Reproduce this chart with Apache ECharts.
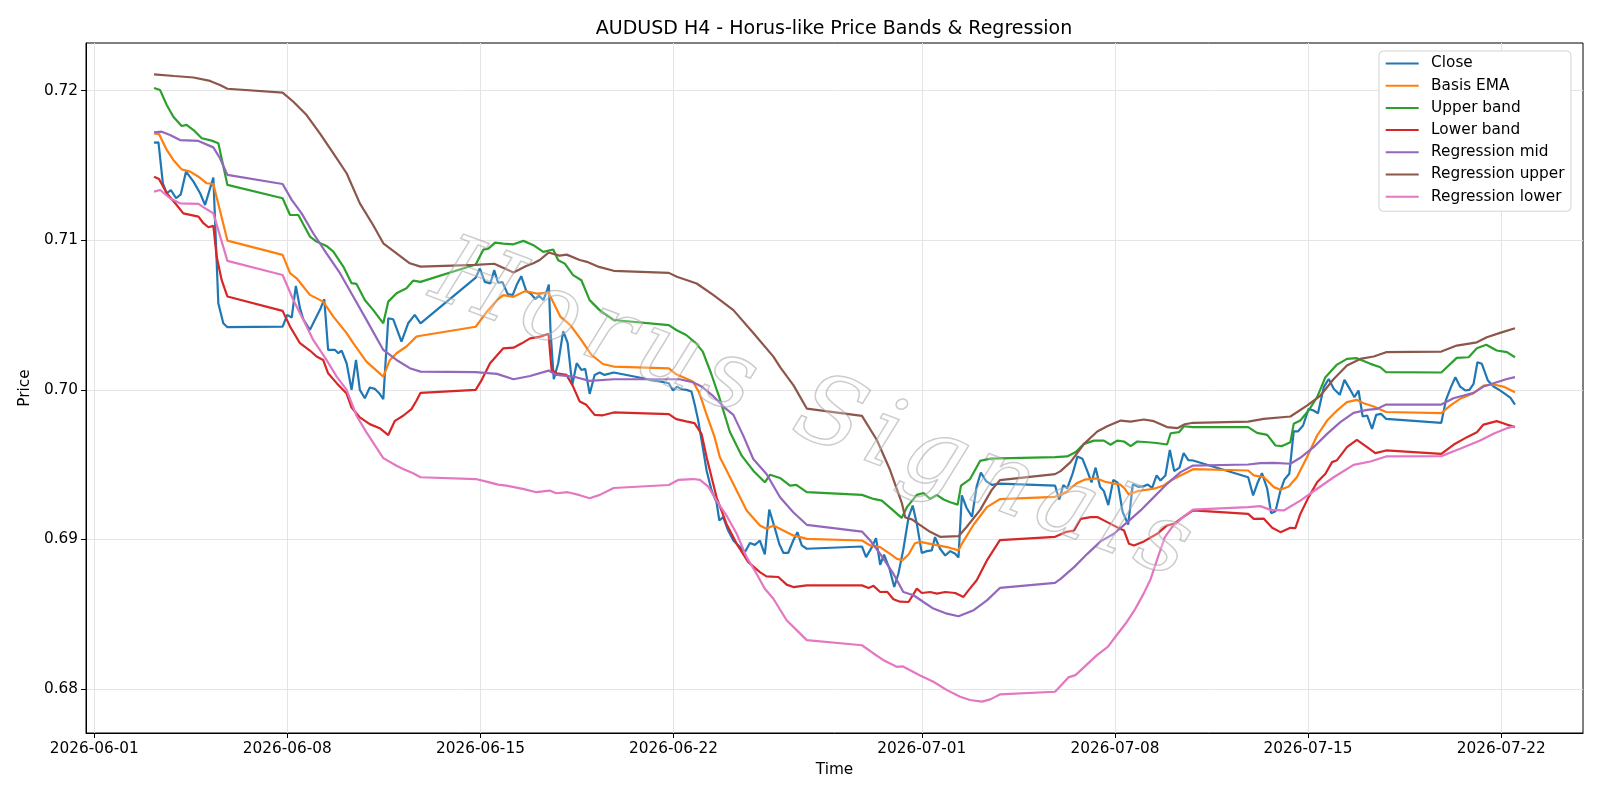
<!DOCTYPE html>
<html>
<head>
<meta charset="utf-8">
<title>AUDUSD H4 - Horus-like Price Bands & Regression</title>
<script src="https://cdn.jsdelivr.net/npm/echarts@6.0.0/dist/echarts.min.js"></script>
<style>
  html, body { margin: 0; padding: 0; background: #fff; }
  #chart { width: 1600px; height: 800px; }
</style>
</head>
<body>
<div id="chart"></div>
<script>
// each point: [days since 2026-06-01 00:00 UTC, price]
var close = [
  [2.17, 0.71653], [2.33, 0.71655], [2.49, 0.71381], [2.63, 0.71314], [2.78, 0.71336], [2.97, 0.71281],
  [3.14, 0.71307], [3.33, 0.71459], [3.6, 0.71392], [3.84, 0.71314], [4.02, 0.71236], [4.2, 0.71347],
  [4.32, 0.71419], [4.5, 0.70579], [4.68, 0.70445], [4.83, 0.70419], [6.83, 0.70423], [7.0, 0.70501],
  [7.16, 0.70483], [7.31, 0.70695], [7.46, 0.70546], [7.58, 0.70472], [7.82, 0.70401], [8.06, 0.7049],
  [8.21, 0.70546], [8.34, 0.70606], [8.48, 0.70267], [8.73, 0.70267], [8.85, 0.70245], [8.97, 0.70263],
  [9.15, 0.70178], [9.33, 0.7], [9.49, 0.702], [9.63, 0.7], [9.81, 0.69944], [9.99, 0.70016],
  [10.17, 0.70007], [10.33, 0.69978], [10.48, 0.69938], [10.66, 0.70479], [10.84, 0.70472], [11.14, 0.70323],
  [11.38, 0.70445], [11.62, 0.70501], [11.83, 0.70445], [13.83, 0.7075], [13.98, 0.70811], [14.16, 0.70722],
  [14.36, 0.70711], [14.5, 0.708], [14.64, 0.70716], [14.8, 0.7072], [14.99, 0.7064], [15.17, 0.70633],
  [15.32, 0.70704], [15.48, 0.7076], [15.66, 0.70662], [15.84, 0.7064], [15.99, 0.70607], [16.13, 0.7063],
  [16.28, 0.706], [16.4, 0.70656], [16.48, 0.70704], [16.54, 0.704], [16.66, 0.70071], [16.82, 0.70178],
  [17.0, 0.70393], [17.16, 0.70316], [17.33, 0.70033], [17.49, 0.70178], [17.66, 0.70133], [17.8, 0.7014],
  [17.96, 0.69973], [18.14, 0.701], [18.32, 0.70116], [18.5, 0.701], [18.83, 0.70116], [20.83, 0.70044],
  [20.98, 0.69996], [21.13, 0.70022], [21.29, 0.70004], [21.47, 0.7], [21.65, 0.69989], [21.77, 0.699],
  [21.89, 0.698], [22.02, 0.6966], [22.2, 0.6946], [22.38, 0.69327], [22.56, 0.69249], [22.66, 0.69127],
  [22.8, 0.69149], [22.98, 0.6906], [23.17, 0.68993], [23.41, 0.68949], [23.59, 0.68916], [23.77, 0.68976],
  [23.95, 0.68964], [24.13, 0.68993], [24.31, 0.689], [24.47, 0.692], [24.68, 0.69071], [24.83, 0.68971],
  [24.98, 0.68911], [25.16, 0.68911], [25.34, 0.68993], [25.49, 0.69049], [25.65, 0.6896], [25.83, 0.68938],
  [27.83, 0.68953], [27.98, 0.68882], [28.19, 0.68949], [28.34, 0.69009], [28.49, 0.68831], [28.63, 0.68898],
  [28.83, 0.68804], [29.0, 0.68682], [29.15, 0.68771], [29.33, 0.68933], [29.52, 0.69149], [29.67, 0.69227],
  [29.82, 0.69104], [30.0, 0.68909], [30.18, 0.68922], [30.36, 0.68927], [30.48, 0.69016], [30.66, 0.68938],
  [30.85, 0.68893], [31.03, 0.68922], [31.21, 0.68904], [31.33, 0.6888], [31.45, 0.69295], [31.62, 0.69212],
  [31.82, 0.69152], [31.99, 0.69356], [32.14, 0.69448], [32.33, 0.6939], [32.54, 0.69365], [32.83, 0.69373],
  [34.83, 0.6936], [34.98, 0.69267], [35.13, 0.69364], [35.27, 0.69342], [35.47, 0.69442], [35.64, 0.69554],
  [35.82, 0.6954], [36.0, 0.69457], [36.15, 0.69381], [36.3, 0.6948], [36.46, 0.69353], [36.6, 0.69323],
  [36.76, 0.6923], [36.94, 0.69398], [37.1, 0.69379], [37.28, 0.69184], [37.48, 0.691], [37.65, 0.69369],
  [37.84, 0.69352], [38.03, 0.69355], [38.19, 0.69367], [38.35, 0.69345], [38.51, 0.69428], [38.65, 0.69394],
  [38.83, 0.69428], [38.99, 0.69599], [39.15, 0.69457], [39.34, 0.6948], [39.49, 0.69578], [39.66, 0.6953],
  [39.83, 0.69528], [41.83, 0.69416], [42.01, 0.69294], [42.18, 0.69383], [42.33, 0.69443], [42.52, 0.69339],
  [42.66, 0.69176], [42.82, 0.69189], [43.0, 0.69327], [43.14, 0.69399], [43.32, 0.69439], [43.48, 0.69722],
  [43.63, 0.69722], [43.82, 0.69762], [44.02, 0.69873], [44.2, 0.69862], [44.36, 0.69844], [44.57, 0.70018],
  [44.75, 0.70073], [44.93, 0.70007], [45.15, 0.69967], [45.32, 0.70067], [45.51, 0.70007], [45.68, 0.69951],
  [45.83, 0.69996], [45.98, 0.69822], [46.14, 0.69829], [46.32, 0.69739], [46.47, 0.69833], [46.64, 0.6984],
  [46.83, 0.69806], [48.83, 0.6978], [49.0, 0.69933], [49.18, 0.70018], [49.34, 0.70085], [49.51, 0.70022],
  [49.7, 0.69996], [49.85, 0.7], [50.0, 0.7004], [50.14, 0.70185], [50.3, 0.70174], [50.52, 0.70062],
  [50.72, 0.70022], [50.93, 0.7], [51.14, 0.69973], [51.34, 0.69947], [51.5, 0.69902]
];

var basisEma = [
  [2.17, 0.71715], [2.35, 0.7171], [2.63, 0.71604], [2.87, 0.71537], [3.17, 0.71474], [3.48, 0.71459],
  [3.78, 0.71425], [4.08, 0.71381], [4.32, 0.71376], [4.83, 0.70998], [6.83, 0.70902], [7.1, 0.7078],
  [7.34, 0.70746], [7.82, 0.70635], [8.3, 0.7059], [8.67, 0.7049], [9.15, 0.70379], [9.39, 0.70312],
  [9.87, 0.70189], [10.48, 0.70089], [10.72, 0.702], [10.96, 0.70245], [11.32, 0.7029], [11.68, 0.70356],
  [11.83, 0.70362], [13.83, 0.70422], [14.23, 0.70522], [14.6, 0.706], [14.83, 0.70633], [15.2, 0.70622],
  [15.62, 0.7066], [16.04, 0.70644], [16.47, 0.70649], [16.72, 0.70556], [16.9, 0.70489], [17.26, 0.70433],
  [17.66, 0.70333], [18.03, 0.70233], [18.44, 0.70173], [18.83, 0.70156], [20.83, 0.70144], [21.1, 0.70104],
  [21.7, 0.70056], [21.94, 0.69978], [22.18, 0.69844], [22.48, 0.69689], [22.68, 0.69549], [23.17, 0.69371],
  [23.65, 0.69193], [24.13, 0.69093], [24.37, 0.69071], [24.62, 0.69093], [24.98, 0.6906], [25.34, 0.69027],
  [25.83, 0.69004], [27.83, 0.68993], [28.13, 0.6896], [28.49, 0.68949], [28.85, 0.68904], [29.1, 0.6887],
  [29.3, 0.68862], [29.52, 0.689], [29.75, 0.68975], [29.94, 0.68984], [30.54, 0.68962], [31.0, 0.68945],
  [31.33, 0.68927], [31.45, 0.68971], [31.88, 0.691], [32.36, 0.69216], [32.83, 0.6927], [34.83, 0.69285],
  [35.25, 0.69319], [35.61, 0.69375], [35.9, 0.694], [36.34, 0.69408], [36.64, 0.69386], [36.94, 0.69375],
  [37.18, 0.69368], [37.33, 0.69345], [37.51, 0.693], [37.81, 0.69323], [38.41, 0.69339], [38.77, 0.69361],
  [39.02, 0.69394], [39.38, 0.69428], [39.83, 0.6947], [41.83, 0.69461], [42.03, 0.69428], [42.39, 0.69417],
  [42.76, 0.6935], [43.0, 0.69332], [43.3, 0.69354], [43.6, 0.69417], [43.96, 0.6955], [44.33, 0.69695],
  [44.69, 0.69795], [45.05, 0.69862], [45.41, 0.69918], [45.77, 0.69933], [46.02, 0.69911], [46.38, 0.69889],
  [46.83, 0.69852], [48.83, 0.69844], [49.15, 0.69895], [49.51, 0.6994], [50.0, 0.69978], [50.36, 0.70029],
  [50.72, 0.70036], [51.08, 0.70022], [51.5, 0.69984]
];

var upperBand = [
  [2.17, 0.72018], [2.39, 0.72004], [2.63, 0.71904], [2.87, 0.71826], [3.17, 0.71764], [3.35, 0.71771],
  [3.6, 0.71737], [3.9, 0.71682], [4.26, 0.71666], [4.5, 0.71648], [4.83, 0.7137], [6.83, 0.71281],
  [7.1, 0.71169], [7.4, 0.71169], [7.82, 0.71025], [8.06, 0.70991], [8.42, 0.70962], [8.67, 0.70924],
  [9.03, 0.70824], [9.33, 0.70713], [9.51, 0.70708], [9.81, 0.70601], [10.11, 0.70535], [10.48, 0.70445],
  [10.66, 0.7059], [10.96, 0.70646], [11.32, 0.70679], [11.56, 0.7073], [11.83, 0.70722], [13.83, 0.70838],
  [14.11, 0.70938], [14.29, 0.70944], [14.53, 0.70984], [14.83, 0.70978], [15.2, 0.70973], [15.56, 0.70996],
  [15.92, 0.70967], [16.28, 0.70922], [16.64, 0.70938], [16.82, 0.70867], [17.06, 0.70844], [17.36, 0.70767],
  [17.66, 0.70733], [17.96, 0.706], [18.32, 0.70533], [18.83, 0.70467], [20.83, 0.70433], [21.1, 0.704],
  [21.46, 0.70367], [21.82, 0.70311], [22.06, 0.70256], [22.36, 0.70111], [22.66, 0.6995], [23.04, 0.6972],
  [23.47, 0.6956], [23.89, 0.6946], [24.31, 0.69382], [24.5, 0.69433], [24.86, 0.69411], [25.22, 0.6936],
  [25.45, 0.69365], [25.83, 0.69316], [27.83, 0.69298], [28.25, 0.69271], [28.55, 0.6926], [28.97, 0.69193],
  [29.27, 0.69144], [29.46, 0.69216], [29.82, 0.69298], [30.06, 0.69311], [30.3, 0.69271], [30.54, 0.69298],
  [30.79, 0.69267], [31.03, 0.69249], [31.3, 0.69233], [31.42, 0.6936], [31.75, 0.69404], [32.11, 0.69525],
  [32.48, 0.6954], [32.83, 0.69542], [34.83, 0.6955], [35.27, 0.69555], [35.58, 0.69584], [35.88, 0.69639],
  [36.24, 0.69661], [36.6, 0.69661], [36.84, 0.69633], [37.08, 0.69661], [37.33, 0.69655], [37.57, 0.69624],
  [37.81, 0.69655], [38.2, 0.6965], [38.5, 0.69645], [38.89, 0.69635], [39.02, 0.6971], [39.32, 0.69717],
  [39.5, 0.69757], [39.83, 0.69751], [41.83, 0.69751], [42.15, 0.69713], [42.52, 0.69699], [42.82, 0.69628],
  [43.06, 0.69624], [43.36, 0.6965], [43.48, 0.69773], [43.72, 0.69795], [44.02, 0.69862], [44.33, 0.69951],
  [44.63, 0.70085], [45.05, 0.70169], [45.41, 0.70207], [45.77, 0.70212], [46.26, 0.70174], [46.62, 0.70151],
  [46.83, 0.70118], [48.83, 0.70116], [49.39, 0.70214], [49.82, 0.70218], [50.12, 0.70278], [50.46, 0.70301],
  [50.84, 0.70263], [51.21, 0.70252], [51.5, 0.70218]
];

var lowerBand = [
  [2.17, 0.71425], [2.35, 0.7141], [2.63, 0.71314], [2.99, 0.71236], [3.23, 0.7118], [3.78, 0.71158],
  [3.96, 0.71114], [4.14, 0.71087], [4.32, 0.71096], [4.44, 0.70891], [4.62, 0.70735], [4.83, 0.70624],
  [6.83, 0.70528], [7.1, 0.70423], [7.46, 0.70312], [7.82, 0.70263], [8.06, 0.70223], [8.3, 0.702],
  [8.48, 0.70111], [8.79, 0.70045], [9.15, 0.69975], [9.33, 0.69882], [9.63, 0.69816], [9.99, 0.69771],
  [10.35, 0.69744], [10.66, 0.69698], [10.9, 0.69793], [11.2, 0.69827], [11.5, 0.69871], [11.68, 0.69927],
  [11.83, 0.6998], [13.83, 0.7], [14.05, 0.70067], [14.35, 0.70178], [14.83, 0.70278], [15.2, 0.70282],
  [15.5, 0.70311], [15.8, 0.70344], [16.16, 0.70356], [16.47, 0.70373], [16.58, 0.70133], [16.76, 0.70111],
  [17.12, 0.701], [17.36, 0.70022], [17.6, 0.69922], [17.84, 0.699], [18.14, 0.69833], [18.44, 0.6983],
  [18.83, 0.69849], [20.83, 0.69838], [21.1, 0.69804], [21.46, 0.69789], [21.76, 0.69778], [22.02, 0.69704],
  [22.2, 0.69549], [22.56, 0.69282], [22.92, 0.69104], [23.29, 0.68971], [23.71, 0.68849], [24.13, 0.68782],
  [24.37, 0.68753], [24.8, 0.68749], [25.1, 0.68698], [25.34, 0.68682], [25.83, 0.68693], [27.83, 0.68693],
  [28.07, 0.68676], [28.25, 0.6869], [28.49, 0.68649], [28.75, 0.6865], [28.97, 0.686], [29.21, 0.68584],
  [29.52, 0.68582], [29.82, 0.68671], [30.0, 0.68642], [30.3, 0.68649], [30.55, 0.68638], [30.85, 0.68649],
  [31.21, 0.68642], [31.51, 0.68616], [31.69, 0.6866], [31.99, 0.68727], [32.36, 0.6886], [32.83, 0.68995],
  [34.83, 0.69018], [35.25, 0.69051], [35.52, 0.6906], [35.76, 0.69138], [36.12, 0.69149], [36.36, 0.6915],
  [36.72, 0.69116], [37.08, 0.69082], [37.33, 0.6906], [37.51, 0.68971], [37.69, 0.6896], [38.05, 0.68987],
  [38.53, 0.69038], [38.89, 0.69094], [39.14, 0.69105], [39.38, 0.69138], [39.74, 0.69183], [39.83, 0.69194],
  [41.83, 0.69171], [42.03, 0.69138], [42.39, 0.6914], [42.7, 0.69078], [43.0, 0.69049], [43.36, 0.69078],
  [43.54, 0.69076], [43.72, 0.69171], [44.02, 0.69283], [44.33, 0.69383], [44.63, 0.69439], [44.87, 0.69517],
  [45.05, 0.6953], [45.41, 0.69617], [45.77, 0.69666], [46.14, 0.69617], [46.44, 0.69577], [46.83, 0.69595],
  [48.83, 0.69572], [49.27, 0.69633], [49.76, 0.69684], [50.12, 0.69717], [50.36, 0.69768], [50.84, 0.69791],
  [51.21, 0.69768], [51.5, 0.69751]
];

var regMid = [
  [2.17, 0.71722], [2.45, 0.71726], [2.75, 0.71704], [3.11, 0.7167], [3.78, 0.71664], [4.32, 0.71621],
  [4.56, 0.71548], [4.83, 0.71437], [6.83, 0.71376], [7.16, 0.7127], [7.52, 0.7118], [7.94, 0.71047],
  [8.42, 0.70913], [8.91, 0.7078], [9.39, 0.70624], [9.87, 0.70468], [10.48, 0.70267], [10.96, 0.702],
  [11.44, 0.70145], [11.83, 0.70122], [13.83, 0.70118], [14.6, 0.70107], [15.2, 0.70071], [15.8, 0.70093],
  [16.47, 0.70129], [16.76, 0.701], [17.36, 0.70089], [17.96, 0.7006], [18.83, 0.70071], [20.83, 0.70071],
  [21.22, 0.70071], [21.7, 0.70051], [22.0, 0.70025], [22.45, 0.69956], [22.87, 0.69878], [23.17, 0.69833],
  [23.54, 0.69689], [23.89, 0.69538], [24.37, 0.69438], [24.86, 0.69282], [25.34, 0.69182], [25.83, 0.69098],
  [27.83, 0.69053], [28.13, 0.68993], [28.49, 0.68904], [28.97, 0.68771], [29.33, 0.68649], [29.7, 0.68627],
  [30.06, 0.68582], [30.42, 0.68538], [30.91, 0.68504], [31.33, 0.68487], [31.88, 0.68527], [32.36, 0.68593],
  [32.83, 0.68676], [34.83, 0.6871], [35.03, 0.68737], [35.52, 0.68815], [36.0, 0.68904], [36.48, 0.68987],
  [36.96, 0.69038], [37.45, 0.69116], [37.93, 0.69194], [38.41, 0.69283], [38.89, 0.69372], [39.38, 0.6945],
  [39.83, 0.69494], [41.83, 0.69501], [42.27, 0.6951], [42.76, 0.69512], [43.36, 0.69506], [43.72, 0.69546],
  [44.2, 0.69617], [44.69, 0.69706], [45.17, 0.69784], [45.65, 0.69846], [46.14, 0.69866], [46.5, 0.69873],
  [46.83, 0.69902], [48.83, 0.69902], [49.27, 0.69944], [49.64, 0.69962], [50.0, 0.6998], [50.36, 0.70022],
  [50.84, 0.70051], [51.21, 0.70073], [51.5, 0.70085]
];

var regUpper = [
  [2.17, 0.72109], [2.9, 0.72098], [3.6, 0.72088], [4.2, 0.72065], [4.56, 0.72038], [4.83, 0.72013],
  [6.83, 0.71987], [7.22, 0.71926], [7.7, 0.71837], [8.18, 0.71715], [8.67, 0.71581], [9.15, 0.71448],
  [9.63, 0.71247], [10.11, 0.71102], [10.48, 0.7098], [10.96, 0.70913], [11.44, 0.70846], [11.83, 0.70824],
  [13.83, 0.70836], [14.5, 0.70843], [15.2, 0.70785], [15.66, 0.70828], [15.92, 0.70846], [16.15, 0.70868],
  [16.47, 0.70918], [16.87, 0.70897], [17.13, 0.70904], [17.6, 0.70868], [17.86, 0.70856], [18.3, 0.70822],
  [18.83, 0.70796], [20.83, 0.70782], [21.12, 0.70756], [21.84, 0.70711], [22.45, 0.70633], [23.17, 0.70533],
  [23.9, 0.70378], [24.62, 0.70222], [24.87, 0.7015], [25.35, 0.7003], [25.83, 0.69875], [27.83, 0.69826],
  [28.37, 0.69665], [28.85, 0.69464], [29.28, 0.69241], [29.4, 0.69147], [29.64, 0.69134], [29.94, 0.69096],
  [30.3, 0.69051], [30.66, 0.69018], [31.33, 0.69022], [31.63, 0.69085], [32.11, 0.69196], [32.53, 0.6933],
  [32.83, 0.69397], [34.83, 0.69437], [35.03, 0.69457], [35.39, 0.69517], [35.88, 0.69639], [36.36, 0.69722],
  [36.72, 0.69757], [37.21, 0.69795], [37.57, 0.69788], [38.05, 0.69802], [38.41, 0.69791], [38.89, 0.69751],
  [39.26, 0.69744], [39.53, 0.6977], [39.83, 0.6978], [41.83, 0.69788], [42.39, 0.69806], [43.36, 0.69822],
  [43.96, 0.69895], [44.45, 0.69962], [44.93, 0.70073], [45.41, 0.70163], [45.89, 0.70207], [46.38, 0.70223],
  [46.83, 0.70252], [48.83, 0.70256], [49.39, 0.70296], [50.12, 0.70318], [50.48, 0.70352], [50.96, 0.70381],
  [51.5, 0.70412]
];

var regLower = [
  [2.17, 0.71325], [2.39, 0.71336], [2.75, 0.71281], [3.11, 0.71247], [3.78, 0.71243], [4.08, 0.71207],
  [4.32, 0.7118], [4.83, 0.70862], [6.83, 0.70768], [7.22, 0.70601], [7.58, 0.70468], [7.94, 0.70334],
  [8.42, 0.702], [8.79, 0.70089], [9.15, 0.7], [9.51, 0.69827], [9.87, 0.69716], [10.48, 0.69544],
  [10.96, 0.69493], [11.2, 0.69471], [11.56, 0.69442], [11.83, 0.69416], [13.83, 0.69404], [14.22, 0.69387],
  [14.64, 0.69367], [14.94, 0.6936], [15.54, 0.69338], [16.03, 0.69316], [16.51, 0.69327], [16.75, 0.69309],
  [17.17, 0.69316], [17.6, 0.69296], [17.96, 0.69276], [18.33, 0.69298], [18.83, 0.69344], [20.83, 0.69364],
  [21.17, 0.69398], [21.71, 0.69404], [21.96, 0.69398], [22.26, 0.69353], [22.56, 0.6926], [22.92, 0.6916],
  [23.29, 0.69038], [23.65, 0.68882], [24.01, 0.68771], [24.31, 0.68671], [24.62, 0.68604], [25.1, 0.6846],
  [25.83, 0.68327], [27.83, 0.68293], [28.25, 0.68238], [28.61, 0.68193], [29.09, 0.68149], [29.3, 0.68152],
  [29.92, 0.68093], [30.42, 0.68049], [30.91, 0.67993], [31.39, 0.67949], [31.75, 0.67927], [32.18, 0.67916],
  [32.48, 0.67931], [32.83, 0.67964], [34.83, 0.67982], [35.06, 0.68027], [35.31, 0.68078], [35.57, 0.68093],
  [35.96, 0.6816], [36.35, 0.68227], [36.74, 0.68282], [37.06, 0.6836], [37.39, 0.68438], [37.71, 0.68527],
  [38.04, 0.68638], [38.3, 0.68738], [38.56, 0.68882], [38.81, 0.69016], [39.07, 0.69082], [39.46, 0.69149],
  [39.83, 0.692], [41.83, 0.69216], [42.27, 0.69223], [42.64, 0.69198], [43.12, 0.69194], [43.72, 0.6926],
  [44.33, 0.69339], [44.93, 0.69416], [45.65, 0.69499], [46.26, 0.69521], [46.83, 0.69555], [48.83, 0.69557],
  [49.51, 0.69606], [50.24, 0.69661], [50.72, 0.69706], [51.21, 0.69744], [51.5, 0.69757]
];

var seriesNames = ['Close', 'Basis EMA', 'Upper band', 'Lower band', 'Regression mid', 'Regression upper', 'Regression lower'];
var seriesData = [close, basisEma, upperBand, lowerBand, regMid, regUpper, regLower];
var colors = ['#1f77b4', '#ff7f0e', '#2ca02c', '#d62728', '#9467bd', '#8c564b', '#e377c2'];

var xTickLabels = ['2026-06-01', '2026-06-08', '2026-06-15', '2026-06-22', '2026-07-01', '2026-07-08', '2026-07-15', '2026-07-22'];
var yTickLabels = [0.68, 0.69, 0.70, 0.71, 0.72];
var watermark = 'Horus Signals';

var BASE = Date.UTC(2026, 5, 1);
var DAY = 86400000;
function dayOf(s) { return (Date.parse(s + 'T00:00:00Z') - BASE) / DAY; }
function dateOf(d) { return new Date(BASE + Math.round(d) * DAY).toISOString().slice(0, 10); }

// matplotlib-style 5% margins around the data
var allX = [], allY = [];
seriesData.forEach(function (s) {
  s.forEach(function (p) { allX.push(p[0]); allY.push(p[1]); });
});
var x0 = Math.min.apply(null, allX), x1 = Math.max.apply(null, allX);
var y0 = Math.min.apply(null, allY), y1 = Math.max.apply(null, allY);
var xPad = (x1 - x0) * 0.05, yPad = (y1 - y0) * 0.05;

var font = 'DejaVu Sans';
var fs = 15.3;
var xTicks = xTickLabels.map(dayOf);

var myChart = echarts.init(document.getElementById('chart'));

var option = {
  animation: false,
  backgroundColor: '#fff',
  title: {
    text: 'AUDUSD H4 - Horus-like Price Bands & Regression',
    left: 829,
    textAlign: 'center',
    top: 15,
    textStyle: { fontFamily: font, fontSize: 19, fontWeight: 'normal', color: '#000' }
  },
  legend: {
    orient: 'vertical',
    left: 1379,
    top: 51,
    itemWidth: 33,
    itemHeight: 16,
    itemGap: 6.2,
    padding: [4.5, 6.5, 6.5, 5.7],
    backgroundColor: '#fff',
    borderColor: '#d4d4d4',
    borderWidth: 1,
    borderRadius: 4,
    itemStyle: { color: 'rgba(0,0,0,0)', borderWidth: 0 },
    textStyle: { fontFamily: font, fontSize: fs, lineHeight: 16, color: '#000', padding: [0, 0, 0, 7.4] },
    data: seriesNames
  },
  grid: {
    left: 86, right: 17, top: 43, bottom: 67,
    show: true, borderColor: '#000', borderWidth: 1, backgroundColor: 'transparent'
  },
  xAxis: {
    type: 'value',
    min: x0 - xPad,
    max: x1 + xPad,
    name: 'Time',
    nameLocation: 'middle',
    nameGap: 30,
    nameTextStyle: { fontFamily: font, fontSize: fs, color: '#000' },
    axisLine: { show: true, onZero: false, lineStyle: { color: '#000', width: 1 } },
    axisTick: { show: true, length: 5, lineStyle: { color: '#000' }, customValues: xTicks },
    axisLabel: {
      customValues: xTicks,
      fontFamily: font, fontSize: fs, color: '#000', margin: 9,
      formatter: function (v) { return dateOf(v); }
    },
    splitLine: { show: true, lineStyle: { color: '#e4e4e4', width: 1 } }
  },
  yAxis: {
    type: 'value',
    min: y0 - yPad,
    max: y1 + yPad,
    name: 'Price',
    nameLocation: 'middle',
    nameGap: 53,
    nameTextStyle: { fontFamily: font, fontSize: fs, color: '#000' },
    axisLine: { show: true, onZero: false, lineStyle: { color: '#000', width: 1 } },
    axisTick: { show: true, length: 5, lineStyle: { color: '#000' }, customValues: yTickLabels },
    axisLabel: {
      customValues: yTickLabels,
      fontFamily: font, fontSize: fs, color: '#000', margin: 8,
      formatter: function (v) { return v.toFixed(2); }
    },
    splitLine: { show: true, lineStyle: { color: '#e4e4e4', width: 1 } }
  },
  graphic: [{
    type: 'text',
    x: 811,
    y: 413,
    rotation: -0.36,
    z: 100,
    silent: true,
    style: {
      // hair spaces open the letters up a little, like the reference stamp
      text: watermark.split('').join('\u200A'),
      font: 'italic 96px "DejaVu Serif"',
      align: 'center',
      verticalAlign: 'middle',
      fill: 'rgba(255,255,255,0.25)',
      stroke: 'rgba(150,150,150,0.55)',
      lineWidth: 1.5
    }
  }],
  series: seriesNames.map(function (name, i) {
    return {
      name: name,
      type: 'line',
      symbol: 'none',
      showSymbol: false,
      color: colors[i],
      lineStyle: { width: 2.2, color: colors[i] },
      data: seriesData[i]
    };
  })
};

myChart.setOption(option);
</script>
</body>
</html>
